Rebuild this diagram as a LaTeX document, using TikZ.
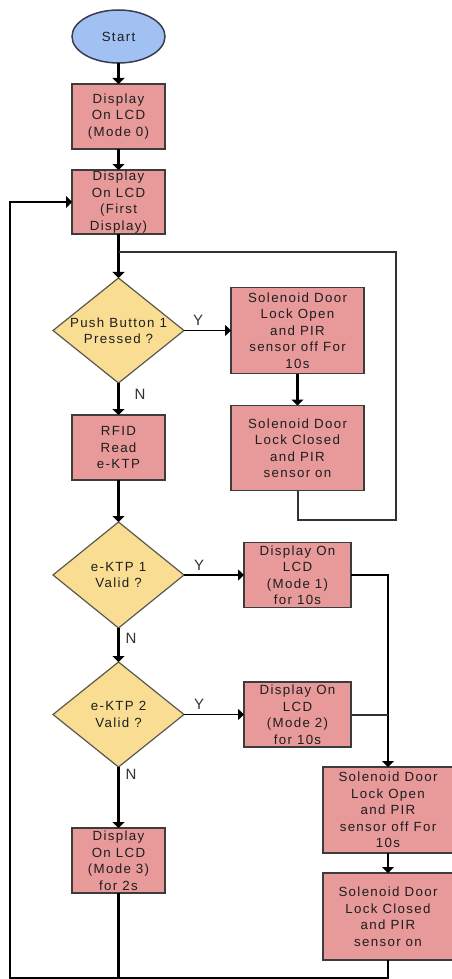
\documentclass[tikz,border=0pt]{standalone}
\usepackage{fontspec}
\setmainfont{Liberation Sans}
\newfontfamily\flowfont{Liberation Sans}[LetterSpace=10]
\usepackage{xcolor}
\usetikzlibrary{shapes,arrows.meta,positioning,calc}
\definecolor{boxred}{RGB}{232,153,154}
\definecolor{boxline}{RGB}{60,60,60}
\definecolor{decyellow}{RGB}{249,221,147}
\definecolor{decline}{RGB}{90,88,78}
\definecolor{startblue}{RGB}{162,193,243}
\definecolor{startline}{RGB}{58,60,80}
\definecolor{textgray}{RGB}{30,30,30}
\definecolor{loopgray}{RGB}{50,50,50}

\begin{document}
\begin{tikzpicture}[
    x=1pt, y=-1pt,
    font=\flowfont\fontsize{13.3}{16.5}\selectfont,
    terminal/.style={ellipse, draw=startline, fill=startblue, line width=1.5pt, minimum width=93pt, minimum height=53pt, inner sep=0pt, outer sep=0pt, text=textgray},
    process/.style={rectangle, draw=boxline, fill=boxred, line width=1.5pt, minimum width=93pt, minimum height=65pt, inner sep=0pt, outer sep=0pt, align=center, text=textgray},
    decision/.style={diamond, draw=decline, fill=decyellow, line width=1.2pt, minimum width=131pt, minimum height=105pt, inner sep=0pt, outer sep=0pt},
    dectext/.style={align=center, text=textgray, font=\flowfont\fontsize{13.3}{16.5}\selectfont},
    yn/.style={text=loopgray, font=\fontsize{15}{15}\selectfont, inner sep=1pt},
    arrow/.style={-{Triangle[width=12pt,length=6pt]}, line width=2.4pt, black},
    yarrow/.style={-{Triangle[width=11pt,length=6pt]}, line width=1.8pt, black},
    loopline/.style={line width=2pt, loopgray}
]
\useasboundingbox (0,0) rectangle (452,979);

% Main column
\node[terminal] (start) at (118.5,36.5) {Start};
\node[process, below=21pt of start] (mode0) {Display\\On LCD\\(Mode 0)};
\node[process, below=21pt of mode0, minimum height=64pt] (first) {Display\\On LCD\\(First\\Display)};
\node[decision, below=44pt of first, label={[dectext]center:Push Button 1\\Pressed ?}] (push) {};
\node[process, below=32pt of push] (rfid) {RFID\\Read\\e-KTP};
\node[decision, below=42pt of rfid, minimum height=106pt, label={[dectext]center:e-KTP 1\\Valid ?}] (ektp1) {};
\node[decision, below=34pt of ektp1, label={[dectext]center:e-KTP 2\\Valid ?}] (ektp2) {};
\node[process, below=61pt of ektp2] (mode3) {Display\\On LCD\\(Mode 3)\\for 2s};

% Right branches
\node[process, right=47pt of push, minimum width=133pt, minimum height=86pt] (open1) {Solenoid Door\\Lock Open\\and PIR\\sensor off For\\10s};
\node[process, below=32pt of open1, minimum width=133pt, minimum height=85pt] (closed1) {Solenoid Door\\Lock Closed\\and PIR\\sensor on};
\node[process, right=60pt of ektp1, minimum width=107pt] (mode1) {Display On\\LCD\\(Mode 1)\\for 10s};
\node[process, right=60pt of ektp2, minimum width=107pt] (mode2) {Display On\\LCD\\(Mode 2)\\for 10s};
\node[process, minimum width=130pt, minimum height=86pt] (open2) at (388,810) {Solenoid Door\\Lock Open\\and PIR\\sensor off For\\10s};
\node[process, below=20pt of open2, minimum width=130pt, minimum height=87pt] (closed2) {Solenoid Door\\Lock Closed\\and PIR\\sensor on};

% Loop corners
\coordinate (rtop) at (396,252);
\coordinate (lbot) at (10,978);

% Arrows
\draw[arrow] (start) -- (mode0);
\draw[arrow] (mode0) -- (first);
\draw[arrow] (first) -- (push);
\draw[yarrow] (push.east) -- node[yn, pos=0.3, above=3pt] {Y} (open1);
\draw[arrow] (open1) -- (closed1);
\draw[loopline] (closed1.south) -- ++(0,29) -| (rtop) -- (rtop -| push.north);
\draw[arrow] (push.south) -- node[yn, pos=0.35, right=14pt] {N} (rfid);
\draw[arrow] (rfid) -- (ektp1);
\draw[yarrow] (ektp1.east) -- node[yn, pos=0.25, above=3pt] {Y} (mode1);
\draw[arrow] (ektp1.south) -- node[yn, pos=0.3, right=5pt] {N} (ektp2);
\draw[yarrow] (ektp2.east) -- node[yn, pos=0.25, above=3pt] {Y} (mode2);
\draw[arrow] (ektp2.south) -- node[yn, pos=0.12, right=5pt] {N} (mode3);
\draw[arrow] (mode1.east) -| (open2.north);
\draw[loopline] (mode2.east) -- (mode2.east -| open2.north);
\draw[arrow] (open2) -- (closed2);
\draw[arrow] (closed2.south) |- (lbot) |- (first.west);
\draw[arrow, -] (mode3.south) -- (mode3.south |- lbot);

\end{tikzpicture}
\end{document}
